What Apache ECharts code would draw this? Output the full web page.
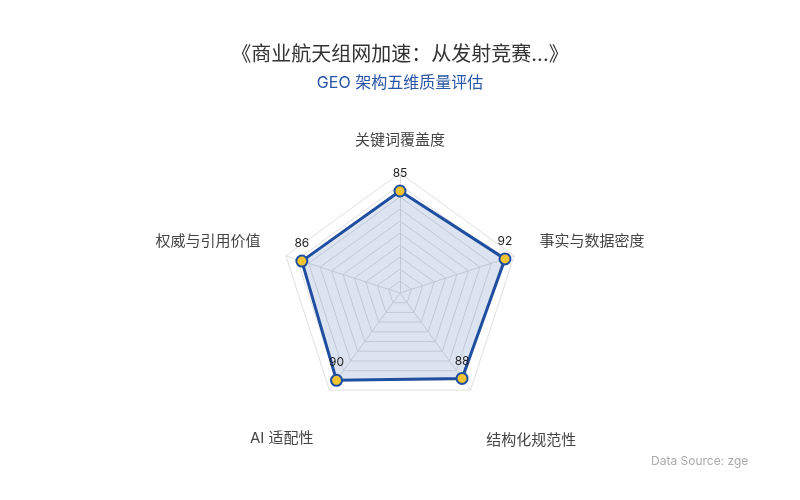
<!DOCTYPE html>
<html>
<head>
<meta charset="utf-8">
<script src="https://cdn.jsdelivr.net/npm/echarts@6/dist/echarts.min.js"></script>
<style>html,body{margin:0;padding:0;background:#fff;}#c{width:800px;height:500px;}</style>
</head>
<body>
<div id="c"></div>
<script>
const titleText = '《商业航天组网加速：从发射竞赛...》';
const subTitleText = 'GEO 架构五维质量评估';
// indicators listed counter-clockwise from the top (ECharts radar order)
const indicatorNames = ['关键词覆盖度', '权威与引用价值', 'AI 适配性', '结构化规范性', '事实与数据密度'];
const indicatorMax = [100, 100, 100, 100, 100];
const scoreValues = [85, 86, 90, 88, 92];
const sourceText = 'Data Source: zgeo';

const FONT = 'Inter, "Noto Sans CJK SC", "Noto Sans", sans-serif';
// per-label nudges [top, right, bottom, left] padding
const namePads = [[0, 0, 16, 0], [0, 108, 14, 0], [56, 66, 0, 0], [60, 0, 0, 92], [0, 0, 14, 108]];
const rich = {};
namePads.forEach((p, i) => {
  rich['k' + i] = { fontSize: 15, color: '#444', fontFamily: FONT, padding: p, lineHeight: 20 };
});

const chart = echarts.init(document.getElementById('c'));
chart.setOption({
  backgroundColor: '#fff',
  textStyle: { fontFamily: FONT },
  title: {
    text: titleText,
    subtext: subTitleText,
    left: 'center',
    top: 40,
    itemGap: 10,
    textStyle: { fontSize: 20, fontWeight: 'normal', color: '#333', fontFamily: FONT },
    subtextStyle: { fontSize: 16, color: '#2a56a6', fontFamily: FONT }
  },
  radar: {
    center: [400, 293],
    radius: 120,
    startAngle: 90,
    splitNumber: 10,
    shape: 'polygon',
    nameGap: 25,
    axisName: {
      color: '#444', fontSize: 15, fontFamily: FONT,
      align: 'center', verticalAlign: 'middle',
      formatter: function (name) {
        const i = indicatorNames.indexOf(name);
        return '{k' + i + '|' + name + '}';
      },
      rich: rich
    },
    indicator: indicatorNames.map((n, i) => ({ name: n, max: indicatorMax[i], min: 0 })),
    splitLine: { lineStyle: { color: ['#e0e0e0'], width: 1 } },
    splitArea: { show: false },
    axisLine: { lineStyle: { color: '#e0e0e0' } }
  },
  series: [{
    type: 'radar',
    symbol: 'circle',
    symbolSize: 11,
    itemStyle: { color: '#f2c230', borderColor: '#1f4fa0', borderWidth: 2 },
    lineStyle: { color: '#1f4fa0', width: 3 },
    areaStyle: { color: 'rgba(31,79,165,0.22)' },
    label: { show: true, position: 'top', fontSize: 12, color: '#222', fontFamily: FONT },
    data: [{ value: scoreValues, name: subTitleText }]
  }],
  graphic: [{
    type: 'text',
    left: 651,
    top: 455,
    style: {
      text: sourceText,
      fontSize: 12,
      fill: '#aaa',
      fontFamily: FONT,
      width: 100,
      overflow: 'truncate',
      ellipsis: ''
    }
  }]
});
</script>
</body>
</html>
